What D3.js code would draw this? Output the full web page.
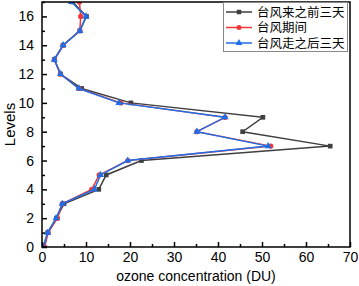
<!DOCTYPE html>
<html>
  <head>
    <meta charset="utf-8">
    <script src="https://d3js.org/d3.v7.min.js"></script>
    <style>
      body { margin: 0; background: #fff; }
      text { font-family: Arial, "Liberation Sans", sans-serif; }
    </style>
  </head>
  <body>
    <script>
        var width = 359;
        var height = 286;

        var levels = [0,1,2,3,4,5,6,7,8,9,10,11,12,13,14,15,16,17];
        var before = [0.3,1.3,3.3,5.0,12.9,14.6,22.6,65.5,45.6,50.2,20.2,9.0,4.2,2.8,4.8,8.6,10.1,7.0];
        var during = [0.6,1.4,3.5,4.6,11.3,13.0,19.5,52.0,35.2,41.6,17.9,8.4,4.2,2.8,4.8,8.6,8.8,8.5];
        var after  = [0.3,1.3,3.2,4.6,11.9,13.3,19.5,51.4,35.2,41.6,17.5,8.4,4.2,2.8,4.8,8.6,10.0,6.7];
        var seriesNames = ["台风来之前三天", "台风期间", "台风走之后三天"];
        var xTicks = [0,10,20,30,40,50,60,70];
        var yTicks = [0,2,4,6,8,10,12,14,16];

        var pLeft = 42, pRight = 350, pTop = 2, pBottom = 247;

        var svg = d3.select("body").append("svg")
            .attr("width", width)
            .attr("height", height)
        ;

        var xScale = d3.scaleLinear().domain([0, 70]).range([pLeft, pRight]);
        var yScale = d3.scaleLinear().domain([0, 17]).range([pBottom, pTop]);

        // clip for the lines so nothing spills past the frame
        svg.append("clipPath").attr("id", "clip")
            .append("rect")
            .attr("x", pLeft).attr("y", pTop)
            .attr("width", pRight - pLeft).attr("height", pBottom - pTop)
        ;

        var colors = ["#3f3f3f", "#f03838", "#1f6ee8"];
        var symbols = [d3.symbolSquare, d3.symbolCircle, d3.symbolTriangle];
        var data = [before, during, after];

        var line = d3.line()
            .x(function(d) { return xScale(d[0]); })
            .y(function(d) { return yScale(d[1]); })
        ;

        var plot = svg.append("g").attr("clip-path", "url(#clip)");
        data.forEach(function(vals, s) {
            var pts = vals.map(function(v, i) { return [v, levels[i]]; });
            plot.append("path")
                .datum(pts)
                .attr("d", line)
                .attr("fill", "none")
                .attr("stroke", colors[s])
                .attr("stroke-width", 1.5)
            ;
            plot.selectAll("path.m" + s)
                .data(pts)
                .enter()
                .append("path")
                .classed("m" + s, true)
                .attr("d", d3.symbol().type(symbols[s]).size(22))
                .attr("transform", function(d) { return "translate(" + xScale(d[0]) + "," + yScale(d[1]) + ")"; })
                .attr("fill", colors[s])
            ;
        });

        // frame
        svg.append("rect")
            .attr("x", pLeft).attr("y", pTop)
            .attr("width", pRight - pLeft).attr("height", pBottom - pTop)
            .attr("fill", "none").attr("stroke", "#000").attr("stroke-width", 1.5)
        ;

        // ticks point inward
        var xAxis = d3.axisBottom(xScale).tickValues(xTicks).tickSize(-5).tickPadding(5);
        var gx = svg.append("g").attr("transform", "translate(0," + pBottom + ")").call(xAxis);
        gx.select(".domain").remove();
        gx.selectAll("line").attr("stroke-width", 1.5);
        gx.selectAll("text").attr("font-size", 14).attr("fill", "#000");
        var xMinor = d3.axisBottom(xScale).tickValues([5,15,25,35,45,55,65]).tickSize(-3).tickFormat("");
        var gxm = svg.append("g").attr("transform", "translate(0," + pBottom + ")").call(xMinor);
        gxm.select(".domain").remove();
        gxm.selectAll("line").attr("stroke-width", 1.5);

        var yAxis = d3.axisLeft(yScale).tickValues(yTicks).tickSize(-5).tickPadding(8);
        var gy = svg.append("g").attr("transform", "translate(" + pLeft + ",0)").call(yAxis);
        gy.select(".domain").remove();
        gy.selectAll("line").attr("stroke-width", 1.5);
        gy.selectAll("text").attr("font-size", 14).attr("fill", "#000");
        var yMinor = d3.axisLeft(yScale).tickValues([1,3,5,7,9,11,13,15,17]).tickSize(-3).tickFormat("");
        var gym = svg.append("g").attr("transform", "translate(" + pLeft + ",0)").call(yMinor);
        gym.select(".domain").remove();
        gym.selectAll("line").attr("stroke-width", 1.5);

        // axis titles
        svg.append("text")
            .attr("x", 196).attr("y", 281)
            .attr("text-anchor", "middle").attr("font-size", 14)
            .text("ozone concentration (DU)")
        ;
        svg.append("text")
            .attr("transform", "translate(15," + ((pTop + pBottom) / 2) + ") rotate(-90)")
            .attr("text-anchor", "middle").attr("font-size", 15)
            .text("Levels")
        ;

        // legend
        var lg = svg.append("g");
        lg.append("rect")
            .attr("x", 223.5).attr("y", 2.5).attr("width", 124).attr("height", 49)
            .attr("fill", "#fff").attr("stroke", "#888").attr("stroke-width", 1)
        ;
        seriesNames.forEach(function(name, s) {
            var y = 12 + s * 15.5;
            lg.append("line")
                .attr("x1", 226).attr("x2", 252).attr("y1", y).attr("y2", y)
                .attr("stroke", colors[s]).attr("stroke-width", 1.5)
            ;
            lg.append("path")
                .attr("d", d3.symbol().type(symbols[s]).size(20))
                .attr("transform", "translate(239," + y + ")")
                .attr("fill", colors[s])
            ;
            lg.append("text")
                .attr("x", 257).attr("y", y + 4.5)
                .attr("font-size", 12.5)
                .style("font-family", "'Noto Sans CJK SC', sans-serif")
                .text(name)
            ;
        });
    </script>
  </body>
</html>
